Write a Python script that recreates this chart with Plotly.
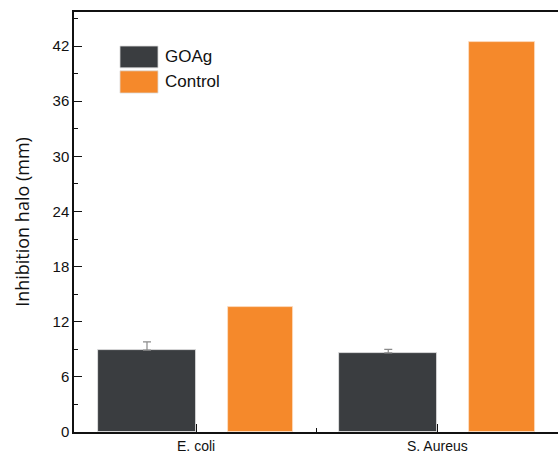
import plotly.graph_objects as go

categories = ["E. coli", "S. Aureus"]
cat_pos = [0, 1]
goag = [8.9, 8.6]
goag_err = [0.9, 0.4]
control = [13.6, 42.4]
y_ticks = [0, 6, 12, 18, 24, 30, 36, 42]

DARK = "#3a3d40"
ORANGE = "#f5892b"

fig = go.Figure()
fig.add_trace(go.Bar(
    x=cat_pos, y=goag, name="GOAg", offset=-0.407, width=0.407,
    marker=dict(color=DARK, line=dict(color="#e8e8e8", width=0.8)),
    error_y=dict(type="data", array=goag_err, visible=True, color="#8a8a8a",
                 thickness=1.2, width=4, symmetric=False, arrayminus=[0, 0]),
    showlegend=False,
))
fig.add_trace(go.Bar(
    x=cat_pos, y=control, name="Control", offset=0.131, width=0.272,
    marker=dict(color=ORANGE, line=dict(color="#fbe0c6", width=0.8)),
    showlegend=False,
))

# legend drawn as swatches + text
leg = [("GOAg", DARK, 0.919, 0.867), ("Control", ORANGE, 0.860, 0.807)]
for name, col, y1, y0 in leg:
    fig.add_shape(type="rect", xref="paper", yref="paper",
                  x0=0.095, x1=0.1736, y0=y0, y1=y1,
                  fillcolor=col, line=dict(color="#dddddd", width=0.8))
    fig.add_annotation(xref="paper", yref="paper", x=0.184, y=(y0 + y1) / 2,
                       text=name, showarrow=False, xanchor="left", yanchor="middle",
                       font=dict(family="Liberation Sans, Arial", size=17, color="#111"))

fig.update_layout(
    width=558, height=462,
    margin=dict(l=74, r=0, t=12, b=30, autoexpand=False),
    plot_bgcolor="white", paper_bgcolor="white",
    bargap=0,
    xaxis=dict(
        range=[-0.506, 1.5],
        tickvals=cat_pos, ticktext=categories,
        ticks="inside", ticklen=8, tickwidth=1.2, tickcolor="#111",
        showline=True, linecolor="#111", linewidth=1.5, mirror=True,
        showgrid=False, zeroline=False,
        minor=dict(tickvals=[0.5], ticks="inside", ticklen=4, tickwidth=1.2, tickcolor="#111"),
        tickfont=dict(family="Liberation Sans, Arial", size=14, color="#111"),
    ),
    yaxis=dict(
        range=[0, 45.7],
        tickvals=y_ticks,
        ticks="inside", ticklen=8, tickwidth=1.2, tickcolor="#111",
        showline=True, linecolor="#111", linewidth=1.5, mirror=False,
        showgrid=False, zeroline=False,
        minor=dict(tick0=3, dtick=6, ticks="inside", ticklen=4, tickwidth=1.2, tickcolor="#111"),
        tickfont=dict(family="Liberation Sans, Arial", size=15, color="#111"),
        title=dict(text="Inhibition halo (mm)", standoff=18,
                   font=dict(family="Open Sans, DejaVu Sans", size=18, color="#111")),
    ),
)

fig.write_html(
    "out.html",
    config={"displayModeBar": False},
    post_script="document.body.style.margin='0';document.body.style.overflow='hidden';",
)
